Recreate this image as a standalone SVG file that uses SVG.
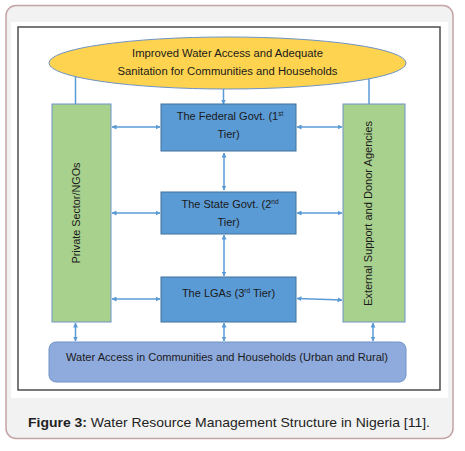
<svg xmlns="http://www.w3.org/2000/svg" width="465" height="451" viewBox="0 0 465 451">
<style>
.t{font-family:"Liberation Sans",Arial,sans-serif;font-size:10px;fill:#1a1a1a;text-anchor:middle}
.b{font-size:11px}
.c{stroke:#5b9bd5;stroke-width:1.5;fill:none}
.blue{fill:#5b9bd5;stroke:#41719c;stroke-width:1}
.green{fill:#a9d18e;stroke:#6f93c6;stroke-width:1}
</style>
<defs>
<marker id="ah" viewBox="0 0 10 10" refX="9" refY="5" markerWidth="5" markerHeight="5" orient="auto-start-reverse" markerUnits="userSpaceOnUse">
<path d="M0,0 L10,5 L0,10 Z" fill="#5b9bd5"/>
</marker>
</defs>
<rect x="6" y="5.5" width="447" height="433" rx="10" fill="#f2f2f2" stroke="#c4a4a4" stroke-width="1.5"/>
<rect x="11" y="22" width="437" height="376" fill="#ffffff"/>
<rect x="18" y="27" width="422" height="363" fill="#ffffff" stroke="#4d4d4d" stroke-width="1.5"/>

<g id="connectors">
<line class="c" x1="75.5" y1="104" x2="75.5" y2="71" marker-end="url(#ah)"/>
<line class="c" x1="369" y1="104" x2="369" y2="74" marker-end="url(#ah)"/>
<line class="c" x1="223.5" y1="89" x2="223.5" y2="104" marker-end="url(#ah)"/>
<line class="c" x1="112" y1="127" x2="160" y2="127" marker-start="url(#ah)" marker-end="url(#ah)"/>
<line class="c" x1="297" y1="127" x2="342" y2="127" marker-start="url(#ah)" marker-end="url(#ah)"/>
<line class="c" x1="112" y1="213" x2="160" y2="213" marker-start="url(#ah)" marker-end="url(#ah)"/>
<line class="c" x1="297" y1="213" x2="342" y2="213" marker-start="url(#ah)" marker-end="url(#ah)"/>
<line class="c" x1="112" y1="299" x2="160" y2="299" marker-start="url(#ah)" marker-end="url(#ah)"/>
<line class="c" x1="297" y1="298.5" x2="342" y2="300" marker-start="url(#ah)" marker-end="url(#ah)"/>
<line class="c" x1="224" y1="153" x2="224" y2="190" marker-start="url(#ah)" marker-end="url(#ah)"/>
<line class="c" x1="224" y1="235" x2="224" y2="276" marker-start="url(#ah)" marker-end="url(#ah)"/>
<line class="c" x1="75.5" y1="323" x2="75.5" y2="341" marker-start="url(#ah)" marker-end="url(#ah)"/>
<line class="c" x1="224" y1="323" x2="224" y2="341" marker-start="url(#ah)" marker-end="url(#ah)"/>
<line class="c" x1="373" y1="323" x2="373" y2="341" marker-start="url(#ah)" marker-end="url(#ah)"/>
</g>

<g id="goal">
<ellipse cx="227.5" cy="63" rx="178.5" ry="26" fill="#fdd34f" stroke="#6f93c6" stroke-width="1"/>
<text class="t" x="227.5" y="57" textLength="191" lengthAdjust="spacingAndGlyphs">Improved Water Access and Adequate</text>
<text class="t" x="227.5" y="75" textLength="220" lengthAdjust="spacingAndGlyphs">Sanitation for Communities and Households</text>
</g>

<g id="private">
<rect class="green" x="52" y="104" width="59" height="218"/>
<text class="t" transform="translate(79.5,213) rotate(-90)" textLength="101" lengthAdjust="spacingAndGlyphs">Private Sector/NGOs</text>
</g>

<g id="external">
<rect class="green" x="343" y="104" width="62" height="218"/>
<text class="t" transform="translate(372,213.5) rotate(-90)" textLength="185" lengthAdjust="spacingAndGlyphs">External Support and Donor Agencies</text>
</g>

<g id="federal">
<rect class="blue" x="161" y="104" width="135" height="47"/>
<text class="t b" x="230" y="120">The Federal Govt. (1<tspan font-size="6.5" dy="-4">st</tspan></text>
<text class="t b" x="228.5" y="138">Tier)</text>
</g>

<g id="state">
<rect class="blue" x="161" y="192" width="135" height="42"/>
<text class="t b" x="230" y="208">The State Govt. (2<tspan font-size="6.5" dy="-4">nd</tspan></text>
<text class="t b" x="228.5" y="226">Tier)</text>
</g>

<g id="lgas">
<rect class="blue" x="161" y="277" width="135" height="45"/>
<text class="t b" x="228.5" y="297">The LGAs (3<tspan font-size="6.5" dy="-4">rd</tspan><tspan dy="4"> Tier)</tspan></text>
</g>

<g id="access">
<rect x="49" y="342" width="357" height="40" rx="7" fill="#8faadc" stroke="#6f93c6" stroke-width="1"/>
<text class="t" x="227" y="361" textLength="322" lengthAdjust="spacingAndGlyphs">Water Access in Communities and Households (Urban and Rural)</text>
</g>

<text x="28" y="427" font-family="'Liberation Sans',Arial,sans-serif" font-size="13.5" fill="#222" textLength="402" lengthAdjust="spacingAndGlyphs"><tspan font-weight="bold">Figure 3:</tspan> Water Resource Management Structure in Nigeria [11].</text>
</svg>
